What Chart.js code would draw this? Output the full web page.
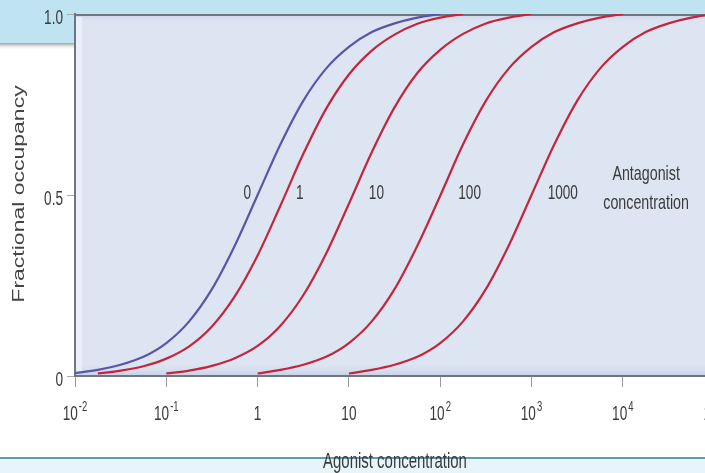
<!DOCTYPE html>
<html>
  <head>
    <title>Fractional occupancy vs agonist concentration</title>
    <script src="https://cdn.jsdelivr.net/npm/chart.js"></script>
    <style>
      body {
        margin: 0;
        background-color: #ffffff;
      }
      canvas {
        display: block;
      }
    </style>
  </head>
  <body>
    <canvas id="myChart" width="705" height="473"></canvas>

    <script>
      // agonist concentration, quarter-decade steps from 10^-2 to 10^5
      const agonistConc = [0.01, 0.0178, 0.0316, 0.0562, 0.1, 0.178, 0.316, 0.562, 1, 1.78, 3.16, 5.62,
        10, 17.8, 31.6, 56.2, 100, 178, 316, 562, 1000, 1780, 3160, 5620, 10000, 17800, 31600, 56200, 100000];

      // fractional occupancy (null = curve not drawn there)
      const occ0 = [0.008, 0.017, 0.031, 0.053, 0.091, 0.151, 0.24, 0.36, 0.5, 0.64, 0.76, 0.849, 0.909, 0.95, 0.974, 0.99, 1,
        null, null, null, null, null, null, null, null, null, null, null, null];
      const occ1 = [null, 0.007, 0.015, 0.027, 0.048, 0.082, 0.137, 0.22, 0.333, 0.471, 0.613, 0.738, 0.833, 0.899, 0.943, 0.973, 0.99, 1,
        null, null, null, null, null, null, null, null, null, null, null];
      const occ10 = [null, null, null, null, 0.007, 0.015, 0.028, 0.049, 0.083, 0.139, 0.223, 0.338, 0.476, 0.618, 0.742, 0.837, 0.901, 0.945, 0.974, 0.99, 1,
        null, null, null, null, null, null, null, null];
      const occ100 = [null, null, null, null, null, null, null, null, 0.007, 0.017, 0.031, 0.053, 0.091, 0.151, 0.24, 0.36, 0.498, 0.64, 0.76, 0.849, 0.909, 0.95, 0.974, 0.99, 1,
        null, null, null, null];
      const occ1000 = [null, null, null, null, null, null, null, null, null, null, null, null, 0.007, 0.017, 0.031, 0.053, 0.091, 0.151, 0.24, 0.36, 0.5, 0.64, 0.76, 0.849, 0.909, 0.95, 0.974, 0.99, 1];

      const antagonistLabels = ["0", "1", "10", "100", "1000"];

      const xTickValues = [0.01, 0.1, 1, 10, 100, 1000, 10000, 100000];
      const xTickBase = ["10", "10", "1", "10", "10", "10", "10", "10"];
      const xTickExp = ["-2", "-1", "", "", "2", "3", "4", "5"];
      const yTickValues = [0, 0.5, 1];
      const yTickLabels = ["0", "0.5", "1.0"];

      // where the curve labels sit (agonist concentration at their centre)
      const labelConc = [0.77, 2.9, 20, 210, 2200];
      const captionConc = 18000;

      const SQUEEZE = 0.68; // the original lettering is narrow
      const FONT = '"Liberation Sans", Arial, sans-serif';
      const TEXT_COLOR = "#3b3b3b";

      function toPoints(values) {
        const pts = [];
        values.forEach((v, i) => {
          if (v !== null) pts.push({ x: agonistConc[i], y: v });
        });
        return pts;
      }

      function textWidth(ctx, text, size) {
        ctx.font = size + "px " + FONT;
        return ctx.measureText(text).width * SQUEEZE;
      }

      function drawText(ctx, text, x, y, size, align) {
        ctx.save();
        ctx.font = size + "px " + FONT;
        ctx.fillStyle = TEXT_COLOR;
        ctx.textAlign = align;
        ctx.textBaseline = "alphabetic";
        ctx.translate(x, y);
        ctx.scale(SQUEEZE, 1);
        ctx.fillText(text, 0, 0);
        ctx.restore();
      }

      const decor = {
        id: "decor",
        beforeDraw(chart) {
          const ctx = chart.ctx;
          const a = chart.chartArea;
          const W = chart.width, H = chart.height;
          ctx.save();
          ctx.fillStyle = "#ffffff";
          ctx.fillRect(0, 0, W, H);

          // cyan header band and the box on the left
          ctx.fillStyle = "#bfe3f1";
          ctx.fillRect(0, 0, W, a.top);
          ctx.fillRect(0, 0, a.left, 43);
          let g = ctx.createLinearGradient(0, 43, 0, 50);
          g.addColorStop(0, "rgba(95,95,95,0.6)");
          g.addColorStop(1, "rgba(255,255,255,0)");
          ctx.fillStyle = g;
          ctx.fillRect(0, 43, a.left, 7);

          // footer band
          ctx.fillStyle = "#e7f4fa";
          ctx.fillRect(0, 459, W, H - 459);
          ctx.fillStyle = "#5f9caf";
          ctx.fillRect(0, 457, W, 2);

          // plot panel
          ctx.fillStyle = "#dde5f2";
          ctx.fillRect(a.left, a.top, a.right - a.left, a.bottom - a.top);
          g = ctx.createLinearGradient(0, a.top, 0, a.top + 10);
          g.addColorStop(0, "#c9d3e6");
          g.addColorStop(1, "rgba(221,229,242,0)");
          ctx.fillStyle = g;
          ctx.fillRect(a.left, a.top, a.right - a.left, 10);
          g = ctx.createLinearGradient(0, a.bottom - 14, 0, a.bottom);
          g.addColorStop(0, "rgba(221,229,242,0)");
          g.addColorStop(1, "#c6d0e6");
          ctx.fillStyle = g;
          ctx.fillRect(a.left, a.bottom - 14, a.right - a.left, 14);
          ctx.fillStyle = "rgba(240,244,252,0.7)";
          ctx.fillRect(a.left + 1, a.top + 3, 6, a.bottom - a.top - 6);
          ctx.restore();
        },
        beforeDatasetsDraw(chart) {
          const ctx = chart.ctx;
          const a = chart.chartArea;
          ctx.save();
          ctx.strokeStyle = "#6f7682";
          ctx.lineWidth = 2;
          ctx.beginPath();
          ctx.moveTo(a.left - 1, a.top + 1);
          ctx.lineTo(a.right, a.top + 1);
          ctx.stroke();
          ctx.restore();
        },
        afterDraw(chart) {
          const ctx = chart.ctx;
          const xs = chart.scales.x;
          const ys = chart.scales.y;

          // x tick labels with superscript exponents
          xTickValues.forEach((v, i) => {
            const px = xs.getPixelForValue(v);
            const bw = textWidth(ctx, xTickBase[i], 20);
            const ew = xTickExp[i] ? textWidth(ctx, xTickExp[i], 14) + 1 : 0;
            const x0 = px - (bw + ew) / 2;
            drawText(ctx, xTickBase[i], x0, 420, 20, "left");
            if (xTickExp[i]) drawText(ctx, xTickExp[i], x0 + bw + 1, 411, 14, "left");
          });

          // y tick labels
          yTickValues.forEach((v, i) => {
            const py = ys.getPixelForValue(v);
            drawText(ctx, yTickLabels[i], 63, py + 10, 20, "right");
          });

          // axis titles
          ctx.save();
          ctx.translate(20, 194);
          ctx.rotate(-Math.PI / 2);
          ctx.scale(1, SQUEEZE);
          ctx.font = "23px " + FONT;
          ctx.fillStyle = "#444444";
          ctx.textAlign = "center";
          ctx.textBaseline = "middle";
          ctx.fillText("Fractional occupancy", 0, 0);
          ctx.restore();
          drawText(ctx, "Agonist concentration", 395, 468, 22, "center");

          // curve labels
          const mid = ys.getPixelForValue(0.5);
          antagonistLabels.forEach((t, i) => {
            drawText(ctx, t, xs.getPixelForValue(labelConc[i]), mid + 4, 20, "center");
          });
          const cx = xs.getPixelForValue(captionConc);
          drawText(ctx, "Antagonist", cx, mid - 15, 21, "center");
          drawText(ctx, "concentration", cx, mid + 14, 21, "center");
        },
      };

      function makeSet(label, values, color) {
        return {
          label: label,
          data: toPoints(values),
          borderColor: color,
          borderWidth: 2.2,
          pointRadius: 0,
          fill: false,
          cubicInterpolationMode: "monotone",
        };
      }

      var ctx = document.getElementById("myChart").getContext("2d");
      var myChart = new Chart(ctx, {
        type: "line",
        data: {
          datasets: [
            makeSet("0", occ0, "#5a55a5"),
            makeSet("1", occ1, "#c2263f"),
            makeSet("10", occ10, "#c2263f"),
            makeSet("100", occ100, "#c2263f"),
            makeSet("1000", occ1000, "#c2263f"),
          ],
        },
        options: {
          responsive: false,
          animation: false,
          devicePixelRatio: 1,
          layout: { padding: { top: 14, left: 0, right: 0, bottom: 0 } },
          plugins: {
            legend: { display: false },
            tooltip: { enabled: false },
          },
          scales: {
            x: {
              type: "logarithmic",
              min: 0.01,
              max: Math.pow(10, 4.9),
              afterBuildTicks: (scale) => {
                scale.ticks = xTickValues.map((v) => ({ value: v }));
              },
              afterFit: (scale) => {
                scale.height = 97;
                scale.paddingLeft = 0;
                scale.paddingRight = 0;
              },
              ticks: { display: false },
              grid: {
                display: true,
                drawOnChartArea: false,
                drawTicks: true,
                tickLength: 11,
                color: "#9c9c9c",
                lineWidth: 1,
              },
              border: { display: true, color: "#6f7682", width: 2 },
            },
            y: {
              min: 0,
              max: 1,
              afterBuildTicks: (scale) => {
                scale.ticks = yTickValues.map((v) => ({ value: v }));
              },
              afterFit: (scale) => {
                scale.width = 75;
                scale.paddingTop = 0;
                scale.paddingBottom = 0;
              },
              ticks: { display: false },
              grid: {
                display: true,
                drawOnChartArea: false,
                drawTicks: true,
                tickLength: 8,
                color: "#ababab",
                lineWidth: 1,
              },
              border: { display: true, color: "#6f7682", width: 2 },
            },
          },
        },
        plugins: [decor],
      });
    </script>
  </body>
</html>
